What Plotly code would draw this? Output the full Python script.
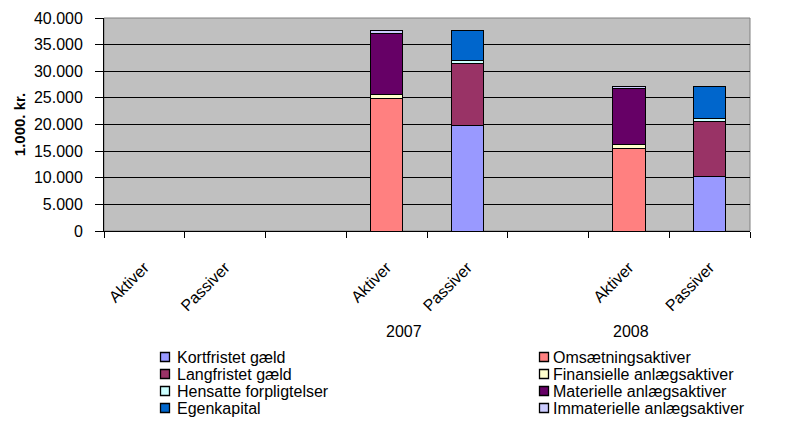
import plotly.graph_objects as go

# ---------------- data ----------------
categories = ["Aktiver", "Passiver", "", "Aktiver", "Passiver", "", "Aktiver", "Passiver"]
group_labels = ["2007", "2008"]

series_names = [
    "Kortfristet gæld", "Omsætningsaktiver",
    "Langfristet gæld", "Finansielle anlægsaktiver",
    "Hensatte forpligtelser", "Materielle anlægsaktiver",
    "Egenkapital", "Immaterielle anlægsaktiver",
]
kortfristet  = [None, None, None, None, 19900, None, None, 10200]
omsaetning   = [None, None, None, 24800, None, None, 15500, None]
langfristet  = [None, None, None, None, 11500, None, None, 10400]
finansielle  = [None, None, None, 800, None, None, 800, None]
hensatte     = [None, None, None, None, 600, None, None, 500]
materielle   = [None, None, None, 11400, None, None, 10500, None]
egenkapital  = [None, None, None, None, 5600, None, None, 5950]
immaterielle = [None, None, None, 600, None, None, 250, None]
series_values = [kortfristet, omsaetning, langfristet, finansielle,
                 hensatte, materielle, egenkapital, immaterielle]

# ---------------- style ----------------
colors = ["#9999FF", "#FF8080", "#993366", "#FFFFCC",
          "#CCFFFF", "#660066", "#0066CC", "#CCCCFF"]
FONT = "Liberation Sans, Arial, sans-serif"
OFF = 8                      # page body margin of the html page
W, H = 801 - OFF, 436 - OFF
# plot area in screen pixels: x 104..750, y 18..231
L, T = 104 - OFF, 18 - OFF
R, B = W - (750 - OFF), H - (231 - OFF)
PW, PH = W - L - R, H - T - B

def px_x(x):
    return (x - OFF - L) / PW

def px_y(y):
    return (T + PH - (y - OFF)) / PH

xpos = list(range(len(categories)))

fig = go.Figure()
for name, vals, col in zip(series_names, series_values, colors):
    fig.add_trace(go.Bar(
        x=xpos, y=vals, name=name, width=0.4,
        marker=dict(color=col, line=dict(color="black", width=1)),
        showlegend=False,
    ))

# group labels under the category labels
group_pos = [3.22, 6.03]
annotations = []
for lab, gx in zip(group_labels, group_pos):
    annotations.append(dict(x=gx, y=px_y(331), xref="x", yref="paper",
                            text=lab, showarrow=False,
                            font=dict(family=FONT, size=16, color="black"),
                            xanchor="center", yanchor="middle"))

# legend drawn as two columns, read row by row
shapes = []
col_sq_x = [165, 544]
col_tx_x = [176, 552]
row_y = [357, 374, 391, 408]
for i, (name, col) in enumerate(zip(series_names, colors)):
    c, r = i % 2, i // 2
    cx, cy = col_sq_x[c], row_y[r]
    shapes.append(dict(type="rect", xref="paper", yref="paper",
                       x0=px_x(cx - 4.5), x1=px_x(cx + 4.5),
                       y0=px_y(cy + 4.5), y1=px_y(cy - 4.5),
                       fillcolor=col, line=dict(color="black", width=1.3)))
    annotations.append(dict(x=px_x(col_tx_x[c]), y=px_y(cy), xref="paper", yref="paper",
                            text=name, showarrow=False, xanchor="left", yanchor="middle",
                            font=dict(family=FONT, size=16, color="black"),
                            borderpad=0))

# plot-area border
shapes.append(dict(type="rect", xref="paper", yref="paper", x0=0, x1=1, y0=0, y1=1,
                   line=dict(color="#808080", width=1), layer="below"))

fig.update_layout(
    width=W, height=H,
    margin=dict(l=L, r=R, t=T, b=B, pad=0, autoexpand=False),
    barmode="stack",
    plot_bgcolor="#C0C0C0",
    paper_bgcolor="white",
    separators=",.",
    font=dict(family=FONT, size=16, color="black"),
    annotations=annotations,
    shapes=shapes,
    xaxis=dict(
        automargin=False,
        range=[-0.5, len(categories) - 0.5],
        tickmode="array", tickvals=xpos, ticktext=categories,
        ticks="", tickangle=-45, ticklabelstandoff=20,
        tickfont=dict(family=FONT, size=16, color="black"),
        showgrid=False, zeroline=False,
        showline=True, linecolor="black", linewidth=1,
        minor=dict(tickmode="array",
                   tickvals=[i - 0.5 for i in range(len(categories) + 1)],
                   ticks="outside", ticklen=6, tickcolor="black", showgrid=False),
    ),
    yaxis=dict(
        automargin=False,
        range=[0, 40000], dtick=5000, tickformat=",d", ticksuffix="\u00a0\u00a0",
        showgrid=True, gridcolor="black", gridwidth=1,
        zeroline=False, showline=True, linecolor="black", linewidth=1,
        ticks="outside", ticklen=8, tickcolor="black",
        tickfont=dict(family=FONT, size=16, color="black"),
        title=dict(text="<b>1.000. kr.</b>", standoff=4,
                   font=dict(family=FONT, size=15, color="black")),
    ),
)

fig.write_html("out.html")
